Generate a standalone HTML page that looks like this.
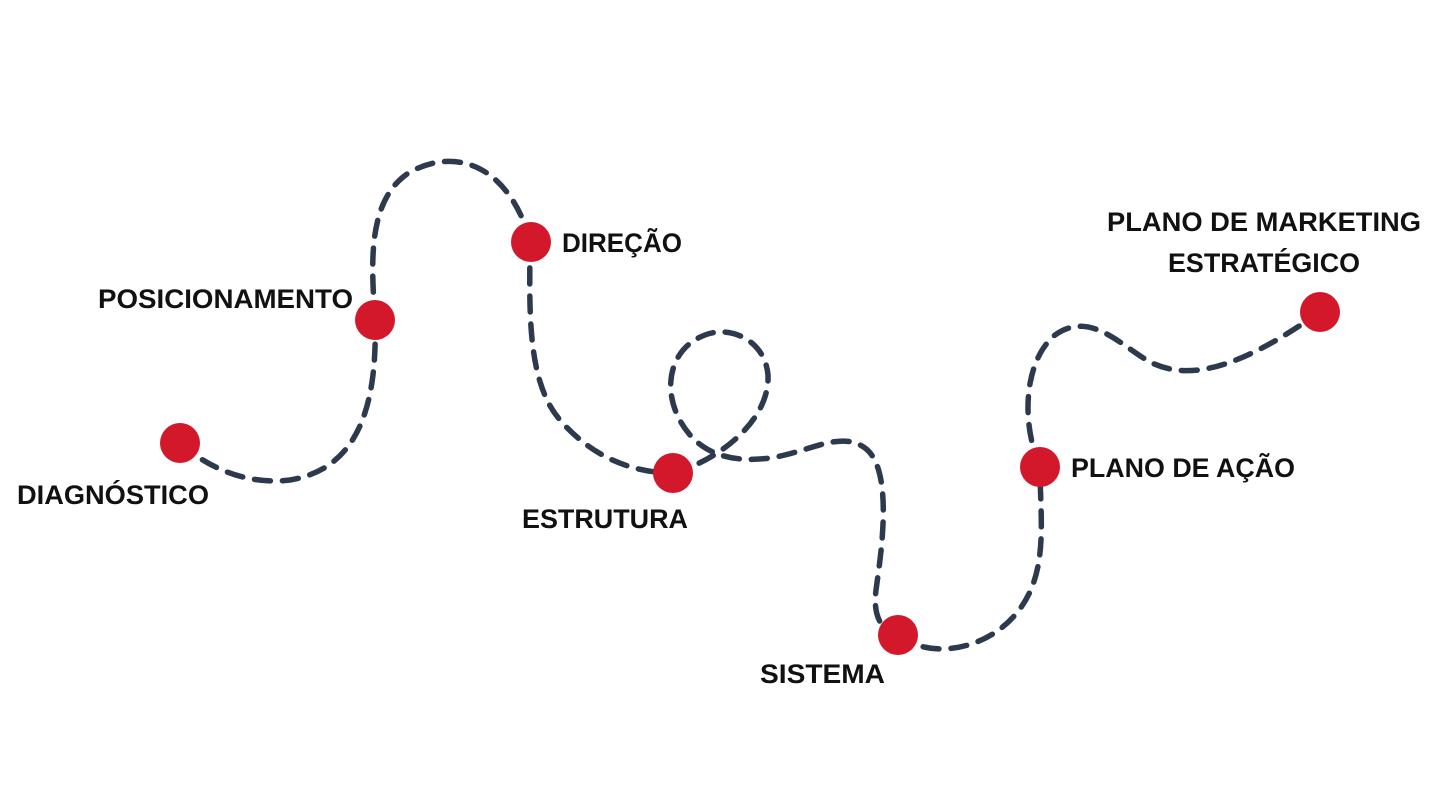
<!DOCTYPE html>
<html><head><meta charset="utf-8"><style>
html,body{margin:0;padding:0;background:#fff;}
svg{display:block;}
text{font-family:"Liberation Sans",sans-serif;font-weight:bold;font-size:27px;fill:#111;}
</style></head><body>
<svg width="1440" height="810" viewBox="0 0 1440 810">
<g fill="none" stroke="#2d3a4e" stroke-width="5.5" stroke-dasharray="16 12" stroke-linecap="round">
<path d="M180,443 C210,470 250,485 290,480 C350,470 378,420 375,320"/>
<path d="M375,320 C372,270 365,200 410,172 C460,145 510,170 530,240"/>
<path d="M530,240 C530,300 525,380 560,420 C590,455 630,473 673,473"/>
<path d="M673,473 C720,460 770,420 768,375 C765,340 730,325 705,335 C665,350 660,400 690,435 C710,458 740,462 770,458 C810,452 840,430 865,448 C895,470 880,560 876,590 C873,615 880,630 898,635"/>
<path d="M898,635 C930,660 985,650 1015,615 C1050,575 1040,520 1040,467"/>
<path d="M1040,467 C1020,420 1025,360 1055,335 C1090,310 1120,345 1150,362 C1190,382 1240,368 1320,312"/>
</g>
<g fill="#d2182a">
<circle cx="180" cy="443" r="20"/>
<circle cx="375" cy="320" r="20"/>
<circle cx="531" cy="242" r="20"/>
<circle cx="673" cy="473" r="20"/>
<circle cx="898" cy="635" r="20"/>
<circle cx="1040" cy="467" r="20"/>
<circle cx="1320" cy="312" r="20"/>
</g>
<text x="17" y="504" textLength="192" lengthAdjust="spacingAndGlyphs">DIAGNÓSTICO</text>
<text x="98" y="308" textLength="255" lengthAdjust="spacingAndGlyphs">POSICIONAMENTO</text>
<text x="562" y="252" textLength="120" lengthAdjust="spacingAndGlyphs">DIREÇÃO</text>
<text x="522" y="528" textLength="166" lengthAdjust="spacingAndGlyphs">ESTRUTURA</text>
<text x="760" y="683" textLength="125" lengthAdjust="spacingAndGlyphs">SISTEMA</text>
<text x="1071" y="477" textLength="224" lengthAdjust="spacingAndGlyphs">PLANO DE AÇÃO</text>
<text x="1107" y="231" textLength="314" lengthAdjust="spacingAndGlyphs">PLANO DE MARKETING</text>
<text x="1168" y="272" textLength="192" lengthAdjust="spacingAndGlyphs">ESTRATÉGICO</text>
</svg>
</body></html>
